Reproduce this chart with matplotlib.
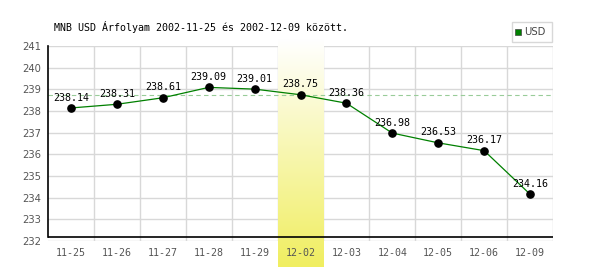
import numpy as np
import matplotlib.pyplot as plt
from matplotlib.colors import LinearSegmentedColormap

dates = ['11-25', '11-26', '11-27', '11-28', '11-29', '12-02',
         '12-03', '12-04', '12-05', '12-06', '12-09']
usd = [238.14, 238.31, 238.61, 239.09, 239.01, 238.75,
       238.36, 236.98, 236.53, 236.17, 234.16]
ref_value = 238.75
highlight = '12-02'
yticks = [232, 233, 234, 235, 236, 237, 238, 239, 240, 241]
title = 'MNB USD Árfolyam 2002-11-25 és 2002-12-09 között.'

mono = 'DejaVu Sans Mono'
fs = 7.2

fig = plt.figure(figsize=(6, 2.7), dpi=100)
ax = fig.add_axes([48/600, 1-241/270, 505/600, 195/270])

x = np.arange(len(dates))
ax.set_xlim(-0.5, len(dates) - 0.5)
ax.set_ylim(232, 241)

ax.set_yticks(yticks)
ax.set_xticks(x)
ax.grid(False)
for v in yticks:
    ax.axhline(v, color='#d8d8d8', lw=1, zorder=1)
for v in np.arange(0.5, len(dates)):
    ax.axvline(v, color='#d8d8d8', lw=1, zorder=1)

# highlighted day: vertical gradient band over the grid, runs past the axes
hi = dates.index(highlight)
cmap = LinearSegmentedColormap.from_list('hl', ['#ffffff', '#f0ee60'])
grad = np.linspace(0, 1, 256).reshape(-1, 1)
ax.imshow(grad, cmap=cmap, aspect='auto', origin='upper',
          extent=(hi - 0.5, hi + 0.5, 230.8, 241.3), clip_on=False, zorder=1.5)

ax.axhline(ref_value, color='#99cc99', lw=0.8, ls=(0, (4, 3)), zorder=2)

ax.plot(x, usd, color='#008000', lw=0.9, zorder=3)
ax.plot(x, usd, 'o', color='black', ms=5.2, zorder=4)
for xi, v in zip(x, usd):
    ax.annotate(f'{v:.2f}', (xi, v), xytext=(0, 7.5), textcoords='offset points',
                ha='center', va='center', fontsize=fs, family=mono, color='black',
                zorder=5)

for s in ax.spines.values():
    s.set_visible(False)
ax.plot([-0.5, -0.5], [232.17, 241], color='black', lw=1.2, clip_on=False, zorder=5)
ax.axhline(232.17, color='black', lw=1.2, zorder=5)

ax.tick_params(which='both', length=0, labelsize=fs, labelcolor='#555555', pad=5)
ax.set_xticklabels(dates, family=mono)
ax.set_yticklabels([str(v) for v in yticks], family='DejaVu Sans')

fig.text(54/600, 1-27/270, title, fontsize=fs, family=mono, va='center', ha='left')

# legend box
fig.patches.append(plt.Rectangle((512/600, 1-42/270), 40/600, 20/270,
                                 transform=fig.transFigure, fill=False,
                                 edgecolor='#d8d8d8', lw=1))
fig.patches.append(plt.Rectangle((515/600, 1-35/270), 6/600, 6/270,
                                 transform=fig.transFigure, facecolor='#008000',
                                 edgecolor='#444444', lw=0.5))
fig.text(524/600, 1-32/270, 'USD', fontsize=fs, family='DejaVu Sans',
         color='#444444', va='center', ha='left')

plt.savefig('out.png', dpi=100)
